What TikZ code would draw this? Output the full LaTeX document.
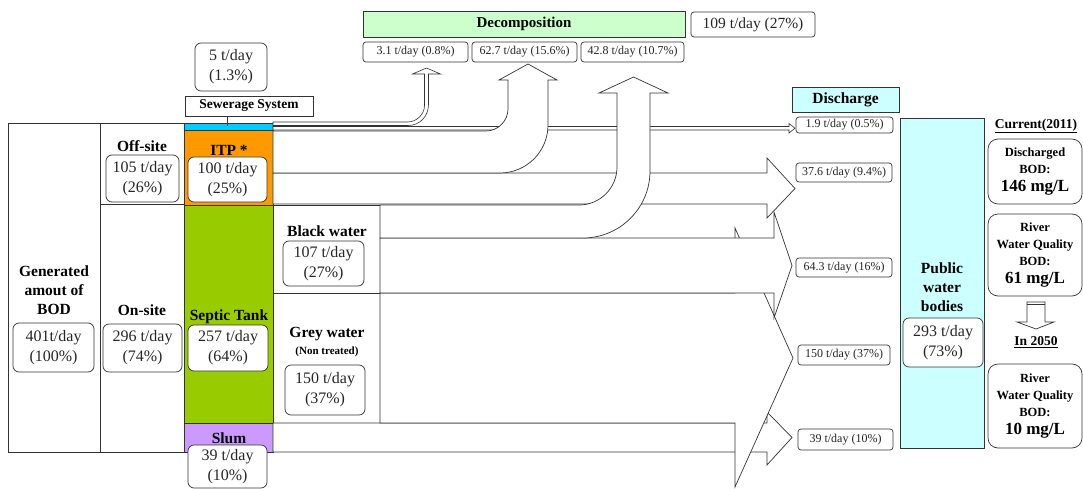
\documentclass[tikz,border=0pt]{standalone}
\usepackage{fontspec}
\setmainfont{Liberation Serif}
\definecolor{sewc}{RGB}{0,204,255}
\definecolor{itpc}{RGB}{255,153,0}
\definecolor{sepc}{RGB}{153,204,0}
\definecolor{slumc}{RGB}{204,153,255}
\definecolor{decc}{RGB}{204,255,204}
\definecolor{disc}{RGB}{204,255,255}
\begin{document}
\begin{tikzpicture}[x=1pt,y=-1pt,
 flow/.style={draw=black!80, fill=white, line width=0.7pt, line join=miter},
 cell/.style={draw=black!80, line width=0.8pt},
 lbl/.style={font=\bfseries\fontsize{15.5}{19}\selectfont, align=center, inner sep=0pt},
 nbox/.style={draw=black!80, fill=white, rounded corners=6pt, align=center, inner sep=0pt, font=\fontsize{16}{20}\selectfont, text=black!85, line width=0.7pt},
 vbox/.style={draw=black!80, fill=white, rounded corners=3pt, inner sep=0pt, font=\fontsize{12}{14}\selectfont, text=black!85, line width=0.7pt},
 rbig/.style={draw=black!80, fill=white, rounded corners=10pt, align=center, inner sep=0pt, font=\bfseries\fontsize{12.5}{17}\selectfont, line width=0.7pt},
 hbox/.style={draw=black!80, inner sep=0pt, line width=0.7pt},
 sz/.style 2 args={minimum width=#1pt, minimum height=#2pt},
]
\useasboundingbox (0,0) rectangle (1083,489);

% ---- table cells
\draw[cell] (8,123) rectangle (100,452);
\draw[cell] (100,123) rectangle (184,204);
\draw[cell] (100,204) rectangle (184,452);
\draw[cell, fill=sewc] (184,123) rectangle (273,130);
\draw[cell, fill=itpc] (184,130) rectangle (273,205);
\draw[cell, fill=sepc] (184,205) rectangle (273,423);
\draw[cell, fill=slumc] (184,423) rectangle (273,452);
\draw[cell] (273,205) rectangle (380,293);
\draw[cell] (273,293) rectangle (380,423);

% ---- flows
% Slum -> 39
\draw[flow] (273,423) -- (767,423) -- (767,412) -- (792,437.5) -- (767,465) -- (767,452) -- (273,452) -- cycle;
% Grey water -> 150
\draw[flow] (380,293) -- (735,293) -- (735,228) -- (793,358) -- (735,487) -- (735,423) -- (380,423) -- cycle;
% Black water -> 64.3
\draw[flow] (380,238) -- (774,238) -- (774,212) -- (792,265.5) -- (774,318) -- (774,293) -- (380,293) -- cycle;
% ITP -> 37.6
\draw[flow] (273,173) -- (767,173) -- (767,158) -- (795,188.5) -- (767,218) -- (767,204) -- (273,204) -- cycle;
% Sewerage -> 1.9 discharge
\draw[flow, line width=0.6pt] (273,126.5) -- (789,126.5) -- (789,123.5) -- (795,128.25) -- (789,133) -- (789,130) -- (273,130) -- cycle;
% Sewerage -> 3.1 decomposition
\draw[flow, line width=0.6pt] (273,122) -- (407.5,122) .. controls (416.5,122) and (424.5,114.5) .. (424.5,105.5)
  -- (424.5,74) -- (412.5,74) -- (426.5,68) -- (440.5,74) -- (428.5,74) -- (428.5,104.5)
  .. controls (428.5,116) and (420,125.5) .. (408,125.5) -- (273,125.5) -- cycle;
% ITP -> 62.7 decomposition
\draw[flow] (273,131) -- (486,131) .. controls (498.2,131) and (508,120.8) .. (508,109)
  -- (508,80) -- (499,80) -- (528,64) -- (557,80) -- (548,80) -- (548,125)
  .. controls (548,151.5) and (526.5,173) .. (500,173) -- (273,173) -- cycle;
% Black water -> 42.8 decomposition
\draw[flow] (380,205) -- (579,205) .. controls (600,205) and (617,188) .. (617,167)
  -- (617,93) -- (599,93) -- (633.5,77) -- (668,93) -- (650,93) -- (650,171)
  .. controls (650,208) and (620,238) .. (583,238) -- (380,238) -- cycle;

% ---- top boxes
\node[hbox, fill=decc, sz={322}{26}, font=\bfseries\fontsize{15}{18}\selectfont] (dec) at (524,24) {Decomposition};
\node[vbox, sz={124}{25}, font=\fontsize{15.5}{18}\selectfont] (dect) at (753,24.5) {109 t/day (27\%)};
\node[vbox, sz={105}{20}] (d1) at (415.5,52) {3.1 t/day (0.8\%)};
\node[vbox, sz={105}{20}] (d2) at (524.5,52) {62.7 t/day (15.6\%)};
\node[vbox, sz={103}{20}] (d3) at (632.5,52) {42.8 t/day (10.7\%)};
\node[nbox, sz={72}{48}] (sewv) at (231,67) {5 t/day\\(1.3\%)};
\node[hbox, fill=white, sz={128}{20}, font=\bfseries\fontsize{13.5}{16}\selectfont] (sew) at (249,106) {Sewerage System};
\coordinate (sewtap) at (227,126);
\draw[black!80, line width=0.7pt] (sew.south -| sewtap) -- (sewtap);

% ---- left labels and values
\node[lbl] (gent) at (54,290) {Generated\\amout of\\BOD};
\node[nbox, sz={81}{49}] (gen) at (53.5,347.5) {401t/day\\(100\%)};
\node[lbl] (offt) at (142,146) {Off-site};
\node[nbox, sz={73}{47}] (off) at (142.5,178.5) {105 t/day\\(26\%)};
\node[lbl] (ont) at (142,310) {On-site};
\node[nbox, sz={79}{48}] (on) at (142.5,348) {296 t/day\\(74\%)};
\node[lbl] (itpt) at (229,150) {ITP *};
\node[nbox, sz={79}{45}] (itp) at (227.5,179.5) {100 t/day\\(25\%)};
\node[lbl] (sept) at (229,317) {Septic Tank};
\node[nbox, sz={80}{46}] (sep) at (228,348) {257 t/day\\(64\%)};
\node[lbl] (slumt) at (229,438) {Slum};
\node[nbox, sz={79}{43}] (slum) at (227.5,466.5) {39 t/day\\(10\%)};
\node[lbl] (blkt) at (327,231) {Black water};
\node[nbox, sz={81}{45}] (blk) at (323.5,263.5) {107 t/day\\(27\%)};
\node[lbl] (grt) at (327,334) {Grey water};
\node[lbl, font=\bfseries\fontsize{11}{13}\selectfont] (grn) at (327,352) {(Non treated)};
\node[nbox, sz={80}{50}] (gr) at (325,390) {150 t/day\\(37\%)};

% ---- discharge side
\node[hbox, fill=disc, sz={107}{25}, font=\bfseries\fontsize{15.5}{18}\selectfont] (dis) at (845.5,99.5) {Discharge};
\node[vbox, sz={97}{16}] (v1) at (844.5,125) {1.9 t/day (0.5\%)};
\node[vbox, sz={96}{19}] (v2) at (844,172.5) {37.6 t/day (9.4\%)};
\node[vbox, sz={96}{19}] (v3) at (844,267.5) {64.3 t/day (16\%)};
\node[vbox, sz={92}{20}] (v4) at (844,355) {150 t/day (37\%)};
\node[vbox, sz={95}{21}] (v5) at (845.5,439.5) {39 t/day (10\%)};
\node[hbox, fill=disc, sz={84}{330}] (pwb) at (942,283) {};
\node[lbl] (pwbt) at (942,287) {Public\\water\\bodies};
\node[nbox, sz={80}{49}] (pwbv) at (943,342.5) {293 t/day\\(73\%)};

% ---- right column
\node[lbl, font=\bfseries\fontsize{13.5}{16}\selectfont] (cur) at (1036,126) {\underline{Current(2011)}};
\node[rbig, sz={94}{65}] (rb1) at (1035,171.5) {Discharged\\BOD:\\[1pt]{\fontsize{17}{19}\selectfont 146 mg/L}};
\node[rbig, sz={94}{82}] (rb2) at (1035,255) {River\\Water Quality\\BOD:\\[1pt]{\fontsize{17}{19}\selectfont 61 mg/L}};
\draw[flow] (1027,302) -- (1045,302) -- (1045,322) -- (1054,322) -- (1036,329) -- (1017,322) -- (1027,322) -- cycle;
\draw[black!80, line width=0.7pt] (1027,304.5) -- (1045,304.5);
\node[lbl, font=\bfseries\fontsize{13.5}{16}\selectfont] (fut) at (1036,342) {\underline{In 2050}};
\node[rbig, sz={94}{84}] (rb3) at (1035,406) {River\\Water Quality\\BOD:\\[1pt]{\fontsize{17}{19}\selectfont 10 mg/L}};
\end{tikzpicture}
\end{document}
